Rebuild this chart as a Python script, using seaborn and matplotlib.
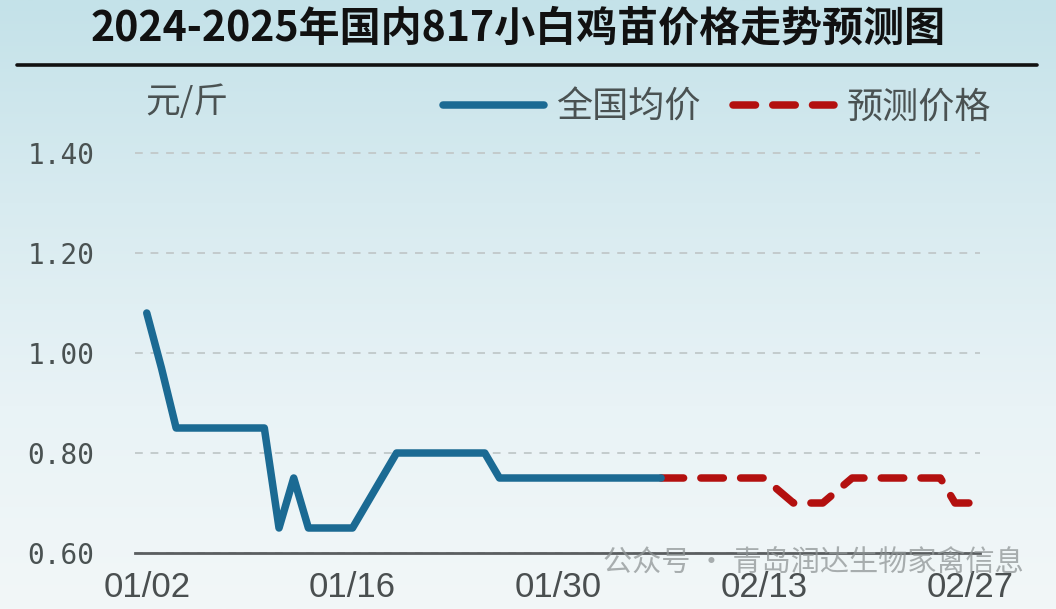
import numpy as np
import pandas as pd
import matplotlib
matplotlib.use("Agg")
import matplotlib.pyplot as plt
import matplotlib.dates as mdates
from matplotlib.lines import Line2D
from matplotlib.colors import LinearSegmentedColormap
import seaborn as sns

# ---------------- data ----------------
actual_dates = pd.date_range("2025-01-02", "2025-02-06", freq="D")
actual_values = [1.08, 0.97, 0.85, 0.85, 0.85, 0.85, 0.85, 0.85, 0.85,
                 0.65, 0.75, 0.65, 0.65, 0.65, 0.65, 0.70, 0.75,
                 0.80, 0.80, 0.80, 0.80, 0.80, 0.80, 0.80,
                 0.75, 0.75, 0.75, 0.75, 0.75, 0.75, 0.75, 0.75, 0.75, 0.75, 0.75, 0.75]
forecast_dates = pd.date_range("2025-02-06", "2025-02-27", freq="D")
forecast_values = [0.75, 0.75, 0.75, 0.75, 0.75, 0.75, 0.75, 0.75,
                   0.725, 0.70, 0.70, 0.70, 0.725,
                   0.75, 0.75, 0.75, 0.75, 0.75, 0.75, 0.75,
                   0.70, 0.70]
tick_dates = ["2025-01-02", "2025-01-16", "2025-01-30", "2025-02-13", "2025-02-27"]
y_ticks = [0.60, 0.80, 1.00, 1.20, 1.40]

title = "2024-2025年国内817小白鸡苗价格走势预测图"
unit_label = "元/斤"
series_names = ["全国均价", "预测价格"]
watermark = "公众号 · 青岛润达生物家禽信息"

df_actual = pd.DataFrame({"date": actual_dates, "price": actual_values})
df_fore = pd.DataFrame({"date": forecast_dates, "price": forecast_values})

# ---------------- style ----------------
sns.set_theme(style="white")
plt.rcParams["font.family"] = ["Noto Sans CJK SC", "DejaVu Sans"]

W, H = 1056, 609
fig = plt.figure(figsize=(W / 100, H / 100), dpi=100)

# background gradient
bg = fig.add_axes([0, 0, 1, 1], zorder=-10)
grad = np.linspace(0, 1, 256).reshape(-1, 1)
cmap = LinearSegmentedColormap.from_list("bg", ["#c4e2e9", "#d8ebf0", "#e9f3f6", "#f2f7f8"])
bg.imshow(grad, aspect="auto", cmap=cmap, extent=[0, 1, 0, 1], origin="upper")
bg.set_axis_off()

# title + rule
fig.text(518 / W, 1 - 28 / H, title, ha="center", va="center", fontsize=29.5,
         fontweight="bold", color="#111111")
fig.add_artist(Line2D([17 / W, 1037 / W], [1 - 65 / H, 1 - 65 / H], color="#111111", lw=2.6))

ax = fig.add_axes([135 / W, 56 / H, (980 - 135) / W, (553 - 103) / H])
ax.set_facecolor("none")

blue = "#1b6a93"
red = "#b3100f"
dash = (0, (3.0, 2.3))
sns.lineplot(data=df_actual, x="date", y="price", ax=ax, color=blue, lw=5.4,
             solid_capstyle="round", solid_joinstyle="round", zorder=4)
sns.lineplot(data=df_fore, x="date", y="price", ax=ax, color=red, lw=5.4,
             dashes=False, zorder=3)
ax.lines[-1].set_linestyle(dash)
ax.lines[-1].set_dash_capstyle("round")
ax.lines[-1].set_dash_joinstyle("round")

x0 = mdates.date2num(pd.Timestamp("2025-01-02"))
ax.set_xlim(x0 - 0.8, x0 + 56.7)
ax.set_ylim(0.6, 1.5)

ax.set_xticks([mdates.date2num(pd.Timestamp(d)) for d in tick_dates])
ax.xaxis.set_major_formatter(mdates.DateFormatter("%m/%d"))
ax.set_yticks(y_ticks)
ax.set_yticklabels([f"{v:.2f}" for v in y_ticks])

for lab in ax.get_xticklabels():
    lab.set_fontfamily(["Liberation Sans", "DejaVu Sans"])
    lab.set_fontsize(25)
    lab.set_color("#4a4f50")
for lab in ax.get_yticklabels():
    lab.set_fontfamily(["DejaVu Sans Mono"])
    lab.set_fontsize(20)
    lab.set_color("#4a5252")
ax.tick_params(axis="x", length=0, pad=13)
ax.tick_params(axis="y", length=0, pad=29)

ax.set_xlabel("")
ax.set_ylabel("")
for s in ["top", "right", "left"]:
    ax.spines[s].set_visible(False)
ax.spines["bottom"].set_color("#5a5e60")
ax.spines["bottom"].set_linewidth(2)

ax.yaxis.grid(True, color="#c3cbcc", lw=1.4, linestyle=(0, (4, 4)))
ax.xaxis.grid(False)
ax.set_axisbelow(True)

# unit label
fig.text(145 / W, 1 - 102 / H, unit_label, ha="left", va="center", fontsize=25, color="#4a5252")

# legend
handles = [Line2D([], [], color=blue, lw=5.4, solid_capstyle="round"),
           Line2D([], [], color=red, lw=5.4, linestyle=dash, dash_capstyle="round")]
fig.legend(handles, series_names, loc="center right", bbox_to_anchor=(1024 / W, 1 - 108 / H),
           ncol=2, frameon=False, fontsize=26, handlelength=2.8, handletextpad=0.35,
           columnspacing=0.9, labelcolor="#4a5252")

# watermark
fig.text(603 / W, 1 - 564 / H, watermark, ha="left", va="center", fontsize=21,
         color="#8f9596", alpha=0.75, zorder=20)

fig.savefig("out.png", dpi=100)
